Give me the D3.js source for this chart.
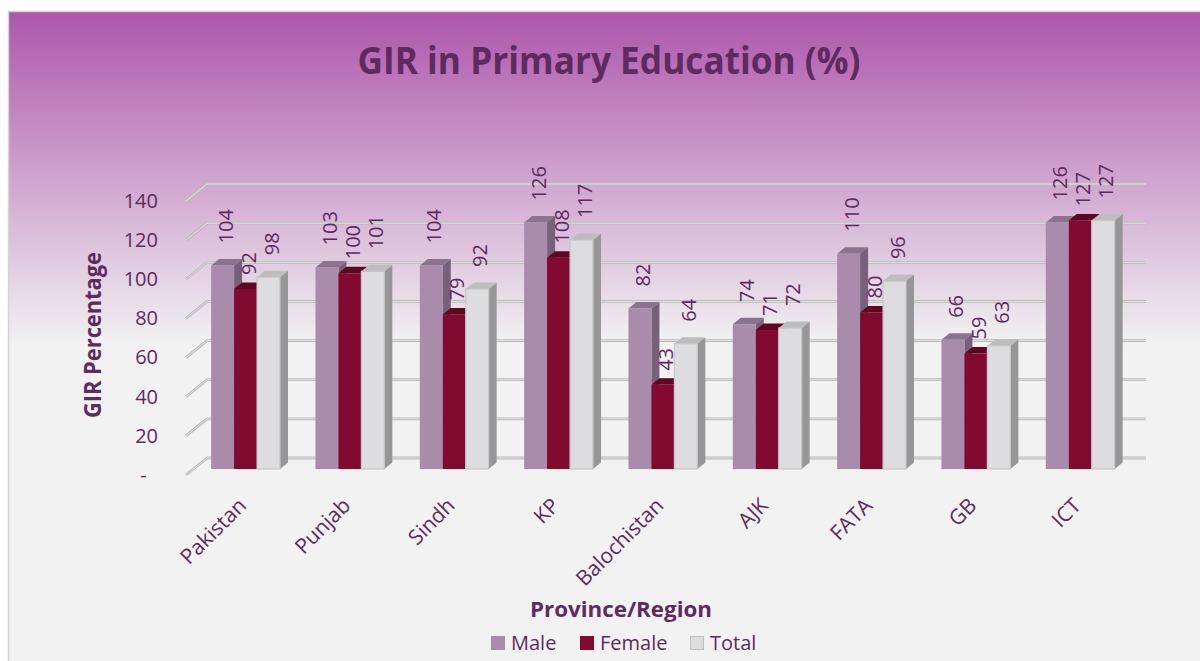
<!DOCTYPE html>
<html>
<head>
<meta charset="utf-8">
<script src="https://cdn.jsdelivr.net/npm/d3@7"></script>
<style>
  html, body { margin: 0; padding: 0; background: #fff; }
  svg { display: block; font-family: "Open Sans", sans-serif; }
</style>
</head>
<body>
<svg width="1200" height="661"></svg>
<script>
// data
const categories = ["Pakistan", "Punjab", "Sindh", "KP", "Balochistan", "AJK", "FATA", "GB", "ICT"];
const seriesNames = ["Male", "Female", "Total"];
const male = [104, 103, 104, 126, 82, 74, 110, 66, 126];
const female = [92, 100, 79, 108, 43, 71, 80, 59, 127];
const total = [98, 101, 92, 117, 64, 72, 96, 63, 127];
const yTicks = [0, 20, 40, 60, 80, 100, 120, 140];

const textColor = "#5e2a60";
const colors = {
  Male:   { front: "#a98cab", top: "#8b7390", side: "#76607a", stroke: "none" },
  Female: { front: "#800a30", top: "#5f0622", side: "#5a0620", stroke: "none" },
  Total:  { front: "#dddddf", top: "#bdbdbd", side: "#969696", stroke: "#c6c6c6" }
};

const svg = d3.select("svg");

// background
const defs = svg.append("defs");
const grad = defs.append("linearGradient")
  .attr("id", "bg")
  .attr("gradientUnits", "userSpaceOnUse")
  .attr("x1", 0).attr("y1", 11).attr("x2", 0).attr("y2", 345);
grad.append("stop").attr("offset", 0).attr("stop-color", "#ad56ab");
grad.append("stop").attr("offset", 1).attr("stop-color", "#f2f2f2");

svg.append("rect").attr("x", 8).attr("y", 11).attr("width", 1200).attr("height", 660)
  .attr("fill", "url(#bg)");
svg.append("path").attr("d", "M8.5,661V11.5H1200")
  .attr("fill", "none").attr("stroke", "#d4d4d4").attr("stroke-width", 1.5);

// 3d layout: back wall, depth vector towards the viewer
const backBase = 458;
const depth = [-21, 17];
const barFront = [-13.6, 11];
const barDepth = [8, -6.5];

const x0 = d3.scaleBand().domain(categories).range([207, 1146])
  .paddingInner(0.34).paddingOuter(0.17);
const x1 = d3.scaleBand().domain(seriesNames).range([0, x0.bandwidth()]);
const h = d3.scaleLinear().domain([0, 140]).range([0, 274]);
const yFront = d3.scaleLinear().domain([0, 140]).range([backBase + depth[1], backBase + depth[1] - 274]);

// gridlines (side wall + back wall)
const grid = svg.append("g");
yTicks.forEach(t => {
  const yb = backBase - h(t);
  const d = `M${207 + depth[0]},${yb + depth[1]}L207,${yb}L1146,${yb}`;
  grid.append("path").attr("d", d).attr("fill", "none")
    .attr("stroke", "#b9b9b9").attr("stroke-width", 2.8).attr("stroke-linejoin", "round");
  grid.append("path").attr("d", d).attr("fill", "none")
    .attr("stroke", "#e4e4e4").attr("stroke-width", 1).attr("stroke-linejoin", "round");
});

// y axis labels
const yAxis = svg.append("g")
  .attr("transform", "translate(158,0)")
  .call(d3.axisLeft(yFront).tickValues(yTicks).tickSize(0).tickPadding(0)
    .tickFormat(d => d === 0 ? "-\u2007" : d));
yAxis.select(".domain").remove();
yAxis.selectAll("text")
  .attr("font-family", "Open Sans, sans-serif")
  .attr("font-size", 20).attr("fill", textColor);

// bars
const rows = categories.map((c, i) => ({
  cat: c,
  values: [
    { s: "Male", v: male[i] },
    { s: "Female", v: female[i] },
    { s: "Total", v: total[i] }
  ]
}));

const barsG = svg.append("g");
const labelsG = svg.append("g");

rows.forEach(r => {
  r.values.forEach(d => {
    const c = colors[d.s];
    const L = x0(r.cat) + x1(d.s) + barFront[0];
    const R = L + x1.bandwidth();
    const B = backBase + barFront[1];
    const T = B - h(d.v);
    const dx = barDepth[0], dy = barDepth[1];
    const g = barsG.append("g");
    g.append("path")
      .attr("d", `M${R},${T}L${R + dx},${T + dy}L${R + dx},${B + dy}L${R},${B}Z`)
      .attr("fill", c.side);
    g.append("path")
      .attr("d", `M${L},${T}L${R},${T}L${R + dx},${T + dy}L${L + dx},${T + dy}Z`)
      .attr("fill", c.top);
    g.append("rect")
      .attr("x", L).attr("y", T).attr("width", R - L).attr("height", B - T)
      .attr("fill", c.front)
      .attr("stroke", c.stroke).attr("stroke-width", 1.2);

    const cx = (L + R) / 2 + 3;
    const gap = d.s === "Female" ? 14 : 22;
    labelsG.append("text")
      .attr("transform", `translate(${cx + 7},${T - gap}) rotate(-90)`)
      .attr("font-size", 20).attr("fill", textColor)
      .text(d.v);
  });
});

// category labels
svg.append("g").selectAll("text")
  .data(categories)
  .join("text")
  .attr("transform", d => `translate(${x0(d) + barFront[0] + x0.bandwidth() / 2 + 2},507) rotate(-45)`)
  .attr("text-anchor", "end")
  .attr("font-size", 21).attr("fill", textColor)
  .text(d => d);

// titles
svg.append("text")
  .attr("x", 609).attr("y", 74)
  .attr("text-anchor", "middle")
  .attr("font-size", 38).attr("font-weight", "bold").attr("fill", textColor)
  .attr("textLength", 503).attr("lengthAdjust", "spacingAndGlyphs")
  .text("GIR in Primary Education (%)");

svg.append("text")
  .attr("transform", "translate(101,335) rotate(-90)")
  .attr("text-anchor", "middle")
  .attr("font-size", 23).attr("font-weight", "bold").attr("fill", textColor)
  .attr("textLength", 166).attr("lengthAdjust", "spacingAndGlyphs")
  .text("GIR Percentage");

svg.append("text")
  .attr("x", 621).attr("y", 617)
  .attr("text-anchor", "middle")
  .attr("font-size", 22).attr("font-weight", "bold").attr("fill", textColor)
  .attr("textLength", 182).attr("lengthAdjust", "spacingAndGlyphs")
  .text("Province/Region");

// legend
const legendX = [491, 580, 690];
const legend = svg.append("g").selectAll("g")
  .data(seriesNames)
  .join("g")
  .attr("transform", (d, i) => `translate(${legendX[i]},636)`);
legend.append("rect")
  .attr("x", 0.5).attr("y", 0.5).attr("width", 13).attr("height", 13)
  .attr("fill", d => colors[d].front)
  .attr("stroke", d => d === "Total" ? "#c0c0c0" : colors[d].front);
legend.append("text")
  .attr("x", 20).attr("y", 14)
  .attr("font-size", 20).attr("fill", textColor)
  .text(d => d);
</script>
</body>
</html>
